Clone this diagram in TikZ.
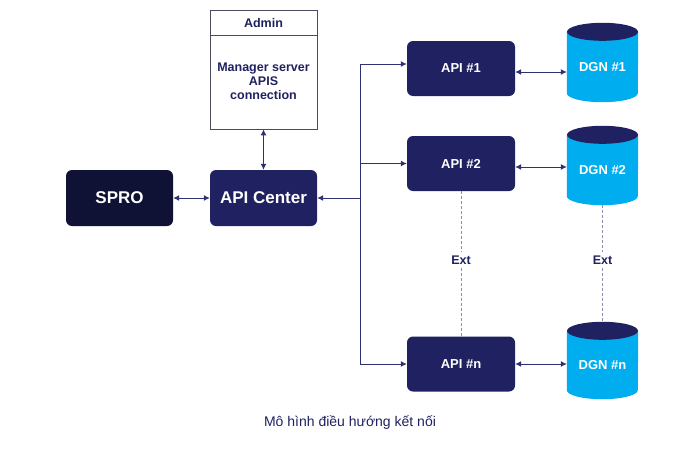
\documentclass[tikz,border=0pt]{standalone}
\usepackage{fontspec}
\setmainfont{Liberation Sans}
\usetikzlibrary{arrows.meta,backgrounds}
\definecolor{navy}{HTML}{1F2160}
\definecolor{sprocol}{HTML}{0F1135}
\definecolor{cyanc}{HTML}{00ADEF}
\definecolor{linec}{HTML}{2E3070}
\definecolor{dashc}{HTML}{8E8EAA}
\definecolor{admborder}{HTML}{4A4A5E}
\begin{document}
\begin{tikzpicture}[x=1pt,y=-1pt,
  apibox/.style={fill=navy, rounded corners=6pt, minimum width=108pt, minimum height=55pt, inner sep=0pt, text=white, font=\bfseries\fontsize{13}{15}\selectfont},
  bigbox/.style={rounded corners=6pt, minimum width=107pt, minimum height=56pt, inner sep=0pt, text=white, font=\bfseries\fontsize{17}{19}\selectfont},
  dgn/.style={minimum width=71pt, inner sep=0pt, text=white, font=\bfseries\fontsize{13}{15}\selectfont},
  arr/.style={draw=linec, line width=1pt, >={Latex[length=6pt,width=6pt]}},
  dashline/.style={draw=dashc, line width=1pt, dash pattern=on 3pt off 2pt},
  navytext/.style={text=navy, font=\bfseries\fontsize{12.5}{14}\selectfont, inner sep=3pt}
]
\useasboundingbox (0,0) rectangle (700,450);

% Admin box
\node[draw=admborder, line width=0.8pt, fill=white, minimum width=107pt, minimum height=119pt, inner sep=0pt] (adm) at (263.5,69.5) {};
\coordinate (hd) at (0,35);
\draw[admborder, line width=0.8pt] (adm.west |- hd) -- (adm.east |- hd);
\node[navytext] (admt) at (263.5,23) {Admin};
\node[navytext, align=center] (admb) at (263.5,81) {Manager server\\APIS\\connection};

% Main boxes
\node[bigbox, fill=sprocol] (sp) at (119.5,198) {SPRO};
\node[bigbox, fill=navy] (ac) at (263.5,198) {API Center};

\node[apibox] (a1) at (461,68.5) {API \#1};
\node[apibox] (a2) at (461,163.5) {API \#2};
\node[apibox] (an) at (461,364) {API \#n};

% DGN cylinders
\node[dgn, minimum height=70pt] (d1) at (602.5,67) {DGN \#1};
\node[dgn, minimum height=70pt] (d2) at (602.5,170) {DGN \#2};
\node[dgn, minimum height=68pt] (dn) at (602.5,365) {DGN \#n};
\begin{scope}[on background layer]
\fill[white] (0,0) rectangle (700,450);
\foreach \n in {d1,d2,dn}{
  \fill[cyanc] (\n.north west) -- ([yshift=9pt]\n.south west)
     arc[start angle=180, end angle=360, x radius=35.5pt, y radius=9pt]
     -- (\n.north east) -- cycle;
  \fill[navy] (\n.north) ellipse[x radius=35.5pt, y radius=9pt];
}
\end{scope}

% Connectors
\draw[arr,<->] (adm.south) -- (ac.north);
\draw[arr,<->] (sp.east) -- (ac.west);

\coordinate (j) at (360,198);
\coordinate (b1) at (360,64);
\coordinate (b2) at (360,163.5);
\coordinate (bn) at (360,364);
\draw[arr] (b1) -- (bn);
\draw[arr,->] (j) -- (ac.east);
\draw[arr,->] (b1) -- (b1 -| a1.west);
\draw[arr,->] (b2) -- (a2.west);
\draw[arr,->] (bn) -- (an.west);

\coordinate (r1) at (0,72);
\coordinate (r2) at (0,167);
\coordinate (rn) at (0,364);
\draw[arr,<->] (a1.east |- r1) -- (d1.west |- r1);
\draw[arr,<->] (a2.east |- r2) -- (d2.west |- r2);
\draw[arr,<->] (an.east |- rn) -- (dn.west |- rn);

% Ext dashed links
\node[navytext] (e1) at (461,260) {Ext};
\node[navytext] (e2) at (602.5,260) {Ext};
\draw[dashline] (a2.south) -- (e1.north);
\draw[dashline] (e1.south) -- (an.north);
\draw[dashline] (d2.south) -- (e2.north);
\draw[dashline] (e2.south) -- ([yshift=9pt]dn.north);

% Caption
\node[text=navy, font=\fontsize{14}{16}\selectfont] (cap) at (350,423) {Mô hình điều hướng kết nối};
\end{tikzpicture}
\end{document}
